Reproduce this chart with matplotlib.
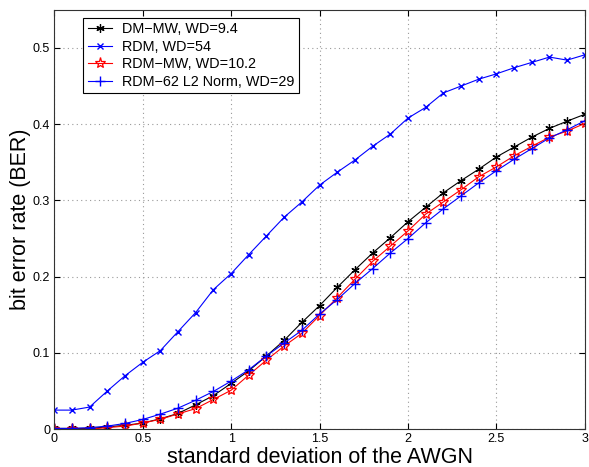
import numpy as np
import matplotlib
matplotlib.use("Agg")
import matplotlib.pyplot as plt

plt.rcParams['font.family'] = ['Liberation Sans', 'DejaVu Sans']

sigma = [0.0, 0.1, 0.2, 0.3, 0.4, 0.5, 0.6, 0.7, 0.8, 0.9, 1.0,
         1.1, 1.2, 1.3, 1.4, 1.5, 1.6, 1.7, 1.8, 1.9, 2.0,
         2.1, 2.2, 2.3, 2.4, 2.5, 2.6, 2.7, 2.8, 2.9, 3.0]

ber_dm_mw = [0.001, 0.001, 0.001, 0.003, 0.005, 0.008, 0.0136, 0.0206, 0.032, 0.044, 0.060,
             0.0766, 0.096, 0.1165, 0.140, 0.162, 0.186, 0.209, 0.231, 0.251, 0.272,
             0.291, 0.310, 0.326, 0.341, 0.357, 0.370, 0.383, 0.3945, 0.404, 0.413]

ber_rdm = [0.025, 0.025, 0.029, 0.050, 0.070, 0.0876, 0.103, 0.128, 0.153, 0.183, 0.204,
           0.229, 0.2535, 0.278, 0.298, 0.320, 0.337, 0.353, 0.371, 0.387, 0.408,
           0.422, 0.441, 0.450, 0.459, 0.466, 0.474, 0.481, 0.488, 0.484, 0.491]

ber_rdm_mw = [0.0, 0.0, 0.0, 0.002, 0.004, 0.008, 0.013, 0.020, 0.027, 0.039, 0.051,
              0.071, 0.0906, 0.109, 0.1257, 0.149, 0.1725, 0.1966, 0.220, 0.240, 0.260,
              0.282, 0.298, 0.314, 0.331, 0.344, 0.3585, 0.371, 0.383, 0.391, 0.401]

ber_rdm62 = [0.001, 0.001, 0.002, 0.004, 0.0075, 0.0127, 0.0197, 0.0276, 0.038, 0.0495, 0.063,
             0.078, 0.096, 0.113, 0.1296, 0.151, 0.170, 0.191, 0.2106, 0.231, 0.250,
             0.2706, 0.289, 0.306, 0.323, 0.339, 0.354, 0.368, 0.382, 0.3927, 0.4045]

fig = plt.figure(figsize=(5.89, 4.67), dpi=100)
ax = fig.add_axes([0.092, 0.081, 0.901, 0.898])

# matlab style asterisk (6 arms)
asterisk = (6, 2, 0)

ax.plot(sigma, ber_dm_mw, color='black', marker=asterisk, ms=6, mew=0.9, lw=0.8, label='DM\u2212MW, WD=9.4')
ax.plot(sigma, ber_rdm, color='blue', marker='x', ms=5, lw=0.8, label='RDM, WD=54')
ax.plot(sigma, ber_rdm_mw, color='red', marker='*', ms=8, mfc='none', mew=0.9, lw=0.8, label='RDM\u2212MW, WD=10.2')
ax.plot(sigma, ber_rdm62, color='blue', marker='+', ms=7, lw=0.8, label='RDM\u221262 L2 Norm, WD=29')

ax.set_xlim(0, 3)
ax.set_ylim(0, 0.55)
ax.set_xticks([0, 0.5, 1, 1.5, 2, 2.5, 3])
ax.set_xticklabels(['0', '0.5', '1', '1.5', '2', '2.5', '3'])
ax.set_yticks([0, 0.1, 0.2, 0.3, 0.4, 0.5])
ax.set_yticklabels(['0', '0.1', '0.2', '0.3', '0.4', '0.5'])
ax.tick_params(direction='in', top=True, right=True, labelsize=9, length=4, pad=3)
ax.grid(True, linestyle=(0, (1, 3)), color='#999999', lw=0.8)
for s in ax.spines.values():
    s.set_color('#333333')

ax.set_xlabel('standard deviation of the AWGN', fontsize=15.5, labelpad=1)
ax.set_ylabel('bit error rate (BER)', fontsize=15.5, labelpad=1)

leg = ax.legend(loc='upper left', bbox_to_anchor=(0.055, 0.981), fontsize=10.4,
                fancybox=False, edgecolor='black', framealpha=1,
                handlelength=1.7, borderpad=0.3, labelspacing=0.25, handletextpad=0.7,
                borderaxespad=0)
leg.get_frame().set_linewidth(0.8)

fig.savefig('out.png', dpi=100)
